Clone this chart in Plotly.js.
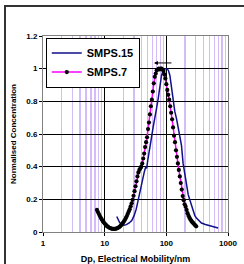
<!DOCTYPE html>
<html>
<head>
<meta charset="utf-8">
<script src="https://cdn.plot.ly/plotly-3.0.1.min.js"></script>
<style>
html,body{margin:0;padding:0;background:#fff;width:244px;height:264px;overflow:hidden;}
#frame{position:absolute;left:4px;top:5px;width:240px;height:259px;border-left:2px solid #333;border-top:2px solid #333;box-sizing:border-box;}
#chart{position:absolute;left:0;top:0;width:244px;height:264px;}
</style>
</head>
<body>
<div id="frame"></div>
<div id="chart"></div>
<script>
// SMPS.7 (dots)
const smps7_dp = [7.50,7.77,8.06,8.35,8.66,8.98,9.31,9.65,10.0,10.4,10.7,11.1,11.5,12.0,12.4,12.9,13.3,13.8,14.3,14.9,15.4,16.0,16.5,17.2,17.8,18.4,19.1,19.8,20.5,21.3,22.1,22.9,23.7,24.6,25.5,26.4,27.4,28.4,29.4,30.5,31.6,32.8,34.0,35.2,36.5,37.9,39.2,40.7,42.2,43.7,45.3,47.0,48.7,50.5,52.3,54.2,56.2,58.3,60.4,62.6,64.9,67.3,69.8,72.3,75.0,77.7,80.6,83.5,86.6,89.8,93.1,96.5,100,103.7,107.5,111.4,115.5,119.7,124.1,128.6,133.4,138.2,143.3,148.6,154.0,159.6,165.5,171.5,177.8,184.3,191.1,198.1,205.4,212.9,220.7,228.8,237.1,245.8,254.8,264.2,273.8,283.9,294.3,305.1];
const smps7_conc = [0.135,0.122,0.110,0.098,0.087,0.077,0.068,0.060,0.052,0.045,0.039,0.034,0.030,0.026,0.023,0.021,0.020,0.019,0.019,0.020,0.021,0.023,0.026,0.030,0.035,0.041,0.048,0.056,0.065,0.075,0.086,0.098,0.111,0.125,0.140,0.157,0.176,0.197,0.222,0.25,0.28,0.31,0.34,0.365,0.38,0.39,0.40,0.42,0.45,0.48,0.52,0.55,0.58,0.63,0.67,0.72,0.77,0.81,0.86,0.91,0.95,0.97,0.99,0.995,1.0,0.995,1.0,1.0,0.995,0.985,0.965,0.94,0.905,0.87,0.84,0.81,0.77,0.73,0.69,0.64,0.59,0.55,0.50,0.46,0.42,0.38,0.34,0.30,0.26,0.22,0.195,0.17,0.155,0.135,0.115,0.10,0.088,0.077,0.068,0.060,0.054,0.047,0.040,0.035];
// SMPS.15 (line)
const smps15_dp = [15.7,16.5,17.5,18.9,20.5,22.5,25,27.5,30,32.5,35,38,41,44,46.5,48,50,53,57,61,65,69.6,74,78.7,83.7,90,96,101,108,114,122,129,137,147,156,166,176,187,200,212,226,240,256,272,290,308,340,371,430,506,580,649,690];
const smps15_conc = [0.095,0.075,0.058,0.046,0.042,0.045,0.055,0.07,0.1,0.14,0.2,0.27,0.33,0.37,0.40,0.39,0.44,0.51,0.57,0.64,0.71,0.76,0.82,0.9,0.96,0.99,1.0,1.0,0.99,0.96,0.88,0.8,0.74,0.69,0.64,0.59,0.53,0.42,0.35,0.27,0.23,0.197,0.16,0.126,0.10,0.085,0.068,0.055,0.046,0.04,0.033,0.028,0.025];
// axis ticks
const xMajor = [1,10,100,1000];
const xMajorText = ['<b>1</b>','<b>10</b>','<b>100</b>','<b>1000</b>'];
const xMinor = [2,3,4,5,6,7,8,9,20,30,40,50,60,70,80,90,200,300,400,500,600,700,800,900];
const yTicks = [0,0.2,0.4,0.6,0.8,1,1.2];
const yTickText = ['<b>0</b>','<b>0.2</b>','<b>0.4</b>','<b>0.6</b>','<b>0.8</b>','<b>1</b>','<b>1.2</b>'];
// arrow annotation (shift of peak)
const arrowFrom = 128, arrowTo = 63, arrowLevel = 1.035;

const fam = 'Arial, Liberation Sans, sans-serif';

const traces = [
  {x:smps15_dp, y:smps15_conc, name:'<b>SMPS.15</b>', mode:'lines', type:'scatter',
   line:{color:'#10108a', width:1.5}},
  {x:smps7_dp, y:smps7_conc, name:'<b>SMPS.7</b>', mode:'lines+markers', type:'scatter',
   line:{color:'#ff00ff', width:1.5}, marker:{color:'#000', size:4.2}}
];

const layout = {
  width:244, height:264,
  margin:{l:43, r:16, t:36, b:32},
  paper_bgcolor:'rgba(0,0,0,0)', plot_bgcolor:'#fff',
  showlegend:true,
  legend:{x:0.015, y:0.992, xanchor:'left', yanchor:'top', bgcolor:'#fff',
          bordercolor:'#000', borderwidth:1, font:{family:fam, size:11, color:'#000'},
          itemwidth:30, tracegroupgap:0},
  xaxis:{type:'log', range:[0,3], tickmode:'array', tickvals:xMajor, ticktext:xMajorText,
         showgrid:true, gridcolor:'#000', gridwidth:1, zeroline:false,
         ticks:'outside', ticklen:3, tickcolor:'#000', tickfont:{family:fam, size:8, color:'#000'},
         showline:true, linecolor:'#808080', linewidth:1, mirror:true,
         minor:{tickmode:'array', tickvals:xMinor, showgrid:true, gridcolor:'#d4bcf8', gridwidth:1.3, ticks:''},
         title:{text:'<b>Dp, Electrical Mobility/nm</b>', font:{family:fam, size:9, color:'#000'}, standoff:9}},
  yaxis:{range:[0,1.2], tickmode:'array', tickvals:yTicks, ticktext:yTickText,
         showgrid:true, gridcolor:'#000', gridwidth:1, zeroline:false,
         ticks:'outside', ticklen:3, tickcolor:'#000', tickfont:{family:fam, size:8, color:'#000'},
         showline:true, linecolor:'#808080', linewidth:1, mirror:true,
         title:{text:'<b>Normalised Concentration</b>', font:{family:fam, size:8, color:'#000'}, standoff:8}},
  annotations:[{x:Math.log10(arrowTo), y:arrowLevel, ax:Math.log10(arrowFrom), ay:arrowLevel,
                xref:'x', yref:'y', axref:'x', ayref:'y', text:'', showarrow:true,
                arrowhead:2, arrowsize:0.8, arrowwidth:1, arrowcolor:'#000'}]
};

Plotly.newPlot('chart', traces, layout, {displayModeBar:false, staticPlot:true});
</script>
</body>
</html>
